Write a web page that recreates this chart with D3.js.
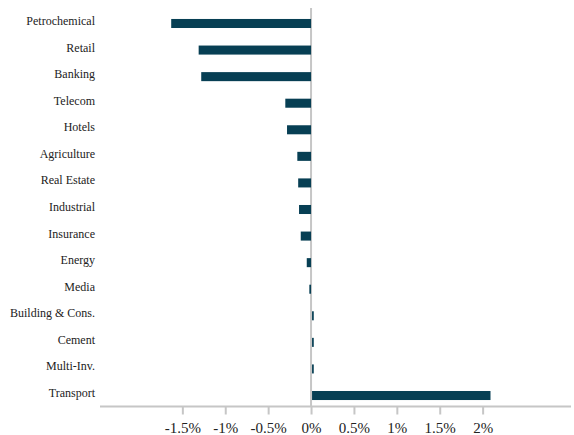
<!DOCTYPE html>
<html><head><meta charset="utf-8">
<script src="https://cdn.jsdelivr.net/npm/d3@7"></script>
<style>html,body{margin:0;padding:0;background:#fff;} svg text{font-family:"Liberation Serif","Times New Roman",Times,serif;}</style>
</head><body><svg id="c" width="574" height="435"></svg>
<script>
const categories = ["Petrochemical","Retail","Banking","Telecom","Hotels","Agriculture","Real Estate","Industrial","Insurance","Energy","Media","Building & Cons.","Cement","Multi-Inv.","Transport"];
const values = [-1.63,-1.31,-1.28,-0.30,-0.28,-0.16,-0.15,-0.14,-0.12,-0.05,-0.02,0.02,0.02,0.02,2.08];
const tickValues = [-1.5,-1,-0.5,0,0.5,1,1.5,2];
const tickLabels = ["-1.5%","-1%","-0.5%","0%","0.5%","1%","1.5%","2%"];

const svg = d3.select("#c");
const x = d3.scaleLinear().domain([-2.46, 3.03]).range([100, 571]);
const y = d3.scaleBand().domain(categories).range([10.2, 408.8]).paddingInner(0.66).paddingOuter(0.33);
const barColor = "#073f54";
const gray = "#c6c6c6";

// zero line
svg.append("line").attr("x1", x(0)).attr("x2", x(0)).attr("y1", 8).attr("y2", 406.5)
  .attr("stroke", gray).attr("stroke-width", 2);

// bars
svg.append("g").selectAll("rect").data(categories).join("rect")
  .attr("x", (d,i) => Math.min(x(0), x(values[i])) + (values[i] > 0 ? 1 : 0))
  .attr("y", d => y(d))
  .attr("width", (d,i) => Math.max(1, Math.abs(x(values[i]) - x(0))))
  .attr("height", y.bandwidth())
  .attr("fill", barColor);

// category labels
svg.append("g").selectAll("text").data(categories).join("text")
  .attr("x", 95).attr("y", d => y(d) + y.bandwidth()/2 + 1.5)
  .attr("text-anchor", "end")
  .style("font-size", "12px").attr("fill", "#222")
  .text(d => d);

// x axis
const xAxis = d3.axisBottom(x).tickValues(tickValues).tickSize(8).tickPadding(8)
  .tickFormat((d,i) => tickLabels[i]);
const g = svg.append("g").attr("transform", "translate(0,406.5)").call(xAxis);
g.attr("font-family", null).attr("font-size", null);
g.select(".domain").attr("stroke", gray).attr("stroke-width", 2).attr("d", `M${x.range()[0]},0H${x.range()[1]}`);
g.selectAll(".tick line").attr("stroke", gray).attr("stroke-width", 2);
g.selectAll(".tick text").style("font-size", "15px").attr("fill", "#222");
</script></body></html>
